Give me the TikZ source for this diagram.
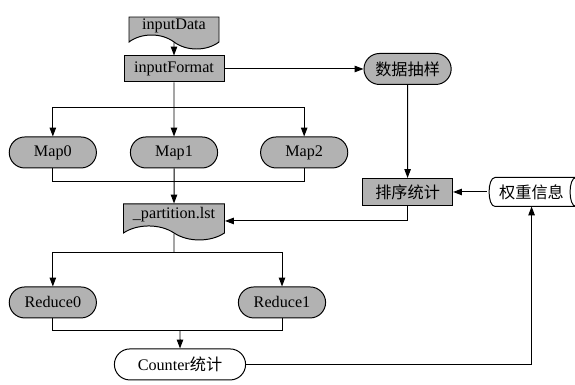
\documentclass[tikz,border=0pt]{standalone}
\usepackage{fontspec}
\setmainfont{Liberation Serif}
\newfontfamily\cjk{Noto Sans CJK SC}
\usetikzlibrary{positioning,arrows.meta,shapes.misc,shapes.symbols}

\begin{document}
\begin{tikzpicture}[
  x=0.25mm, y=0.25mm,
  line width=0.7pt,
  font=\fontsize{11.5}{13}\selectfont,
  process/.style={
    rectangle, draw, fill=black!30,
    minimum width=25mm, minimum height=6.5mm, inner sep=1pt
  },
  document/.style={
    tape, draw, fill=black!30,
    tape bend top=none, tape bend bottom=out and in,
    tape bend height=3.5mm,
    minimum width=22.5mm, minimum height=8mm, inner sep=1pt
  },
  terminal/.style={
    rounded rectangle, draw, fill=black!30,
    minimum width=22.5mm, minimum height=7.75mm, inner sep=1pt
  },
  arrow/.style={-{Triangle[length=2.2mm,width=1.6mm]}}
]
\useasboundingbox (0,0) rectangle (575,-384);

% =====================================================
% INPUT
% =====================================================

\node[document] (inputData) at (174,-26) {inputData};

\node[process, below=5mm of inputData] (inputFormat) {inputFormat};

\draw[arrow] (inputData) -- (inputFormat);

% =====================================================
% MAP
% =====================================================

\node[terminal, below=13.5mm of inputFormat] (map1) {Map1};
\node[terminal, left=8.25mm of map1] (map0) {Map0};
\node[terminal, right=10.5mm of map1] (map2) {Map2};

\coordinate[below=6.25mm of inputFormat] (mapfork);
\coordinate[below=3.25mm of map1] (mapjoin);

\draw[arrow] (inputFormat) -- (map1);
\draw[arrow] (mapfork) -| (map0);
\draw[arrow] (mapfork) -| (map2);
\draw (map0) |- (mapjoin);
\draw (map2) |- (mapjoin);

% =====================================================
% SAMPLING
% =====================================================

\node[terminal, right=34.75mm of inputFormat] (sample) {\cjk 数据抽样};

\node[process, below=23.25mm of sample, minimum width=22.5mm, minimum height=6.75mm]
  (sortstat) {\cjk 排序统计};

\node[minimum width=22mm, minimum height=7mm, inner sep=1pt,
  right=8.5mm of sortstat] (weight) {\cjk 权重信息};
\draw ([xshift=2mm]weight.north west)
  .. controls (weight.north west) and (weight.south west) .. ([xshift=2mm]weight.south west)
  -- (weight.south east)
  .. controls ([xshift=-2mm]weight.south east) and ([xshift=-2mm]weight.north east) .. (weight.north east)
  -- cycle;

\draw[arrow] (inputFormat) -- (sample);
\draw[arrow] (sample) -- (sortstat);
\draw[arrow] (weight) -- (sortstat);

% =====================================================
% PARTITION
% =====================================================

\node[document, below=8.75mm of map1, minimum width=25.25mm, minimum height=9mm]
  (partition) {\_partition.lst};

\draw[arrow] (map1) -- (partition);
\draw[arrow] (sortstat) |- ([yshift=-1.5mm]partition.east);

% =====================================================
% REDUCE
% =====================================================

\node[terminal, below=29.5mm of map0] (reduce0) {Reduce0};
\node[terminal, right=35.25mm of reduce0] (reduce1) {Reduce1};

\coordinate[below=6.5mm of partition] (redfork);

\draw (partition) -- (redfork);
\draw[arrow] (redfork) -| (reduce0);
\draw[arrow] (redfork) -| (reduce1);

\node[terminal, fill=white, minimum width=33.5mm, below=30.5mm of partition, xshift=1.5mm]
  (counter) {Counter{\cjk 统计}};

\coordinate[above=4.5mm of counter] (redjoin);

\draw (reduce0) |- (redjoin);
\draw (reduce1) |- (redjoin);
\draw[arrow] (redjoin) -- (counter);
\draw[arrow] (counter) -| (weight);

\end{tikzpicture}
\end{document}
